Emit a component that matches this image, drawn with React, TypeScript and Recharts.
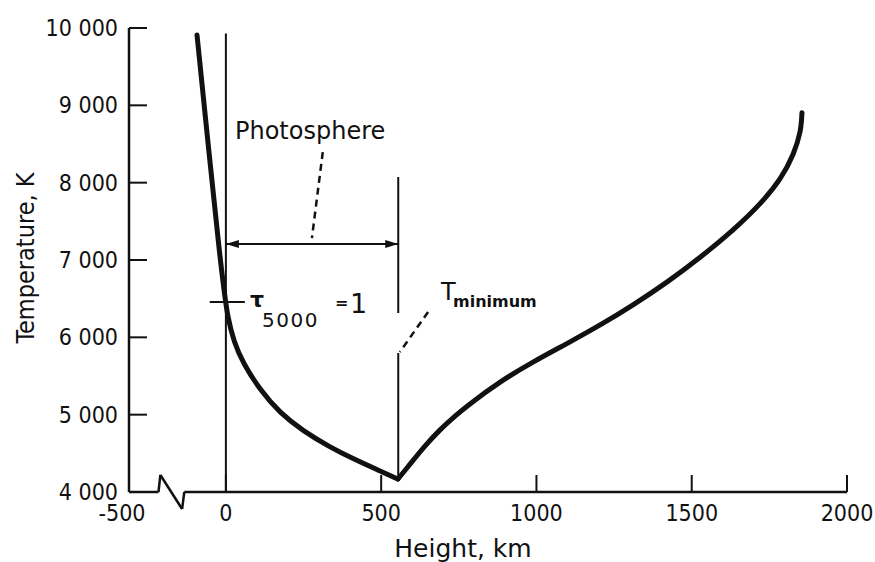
import React from 'react';
import { LineChart, Line, XAxis, YAxis, ReferenceLine } from 'recharts';

// temperature profile, split at the minimum
const leftHeightKm = [-93, -52, -19, -6, 6, 26, 55, 110, 174, 248, 335, 409, 496, 554];
const leftTemperatureK = [9909, 8293, 7026, 6612, 6250, 5940, 5668, 5319, 5021, 4790, 4580, 4430, 4272, 4168];
const rightHeightKm = [554, 583, 609, 641, 689, 738, 786, 882, 989, 1098, 1205, 1311, 1420, 1527, 1633, 1720, 1784, 1826, 1849, 1855];
const rightTemperatureK = [4168, 4310, 4440, 4594, 4800, 4981, 5139, 5417, 5679, 5919, 6160, 6420, 6714, 7035, 7390, 7729, 8049, 8364, 8663, 8905];

// broken axis: the first tick sits where -500 is drawn
const xTicks = [-312, 0, 500, 1000, 1500, 2000];
const xTickLabels = ['-500', '0', '500', '1000', '1500', '2000'];
const yTicks = [4000, 5000, 6000, 7000, 8000, 9000, 10000];
const yTickLabels = ['4 000', '5 000', '6 000', '7 000', '8 000', '9 000', '10 000'];

// zigzag of the axis break
const breakKm = [-312, -217, -211, -141, -134, 2000];
const breakT = [4000, 4000, 4220, 3780, 4000, 4000];

const surfaceKm = 0;
const tMinKm = 555;
const tMinT = 4168;
const tauT = 6457;
const photosphereArrowT = 7207;

const leftData = leftHeightKm.map((h, i) => ({ h, t: leftTemperatureK[i] }));
const rightData = rightHeightKm.map((h, i) => ({ h, t: rightTemperatureK[i] }));

const INK = '#111';
const TICK_FONT = "'DejaVu Sans Condensed', 'Liberation Sans Narrow', 'DejaVu Sans', sans-serif";
const TEXT_FONT = "'DejaVu Sans', sans-serif";

const XTick = (props: any) => {
    const { x, y, payload } = props;
    const i = xTicks.indexOf(payload.value);
    const first = i === 0;
    return (
        <g>
            {!first && <line x1={x} x2={x} y1={y} y2={y - 17} stroke={INK} strokeWidth={2} />}
            <text x={first ? x - 7 : x} y={y + 29} textAnchor="middle" fontFamily={TICK_FONT} fontSize={23} fill={INK}>
                {xTickLabels[i]}
            </text>
        </g>
    );
};

const YTick = (props: any) => {
    const { x, y, payload } = props;
    const i = yTicks.indexOf(payload.value);
    return (
        <g>
            <line x1={x} x2={x + 18} y1={y} y2={y} stroke={INK} strokeWidth={2} />
            <text x={x - 11} y={y + 8} textAnchor="end" fontFamily={TICK_FONT} fontSize={23} fill={INK}>
                {yTickLabels[i]}
            </text>
        </g>
    );
};

const DoubleArrow = (props: any) => {
    const { x1, y1, x2, y2 } = props;
    return (
        <g>
            <line x1={x1} y1={y1} x2={x2} y2={y2} stroke={INK} strokeWidth={2} />
            <polygon points={`${x1},${y1} ${x1 + 13},${y1 - 4} ${x1 + 13},${y1 + 4}`} fill={INK} />
            <polygon points={`${x2},${y2} ${x2 - 13},${y2 - 4} ${x2 - 13},${y2 + 4}`} fill={INK} />
        </g>
    );
};

export default function App() {
    const breakSegments = breakKm.slice(1).map((h, i) => [
        { x: breakKm[i], y: breakT[i] },
        { x: h, y: breakT[i + 1] },
    ]);

    return (
        <div style={{ position: 'absolute', left: 0, top: 0, width: 875, height: 562, background: '#fff' }}>
            <LineChart width={875} height={562} margin={{ top: 28, right: 28, left: 29, bottom: 0 }}>
                <XAxis
                    dataKey="h"
                    type="number"
                    domain={[xTicks[0], 2000]}
                    ticks={xTicks}
                    height={70}
                    axisLine={false}
                    tickLine={false}
                    tickSize={0}
                    tickMargin={0}
                    tick={<XTick />}
                    interval={0}
                    allowDuplicatedCategory={false}
                />
                <YAxis
                    type="number"
                    domain={[4000, 10000]}
                    ticks={yTicks}
                    width={100}
                    axisLine={{ stroke: INK, strokeWidth: 2.5 }}
                    tickLine={false}
                    tickSize={0}
                    tickMargin={0}
                    tick={<YTick />}
                    interval={0}
                />

                {breakSegments.map((seg, i) => (
                    <ReferenceLine key={`b${i}`} segment={seg} stroke={INK} strokeWidth={2.5} ifOverflow="visible" />
                ))}

                {/* h = 0 and T minimum markers */}
                <ReferenceLine segment={[{ x: surfaceKm, y: 4000 }, { x: surfaceKm, y: 9930 }]} stroke={INK} strokeWidth={2} ifOverflow="visible" />
                <ReferenceLine segment={[{ x: tMinKm, y: 6314 }, { x: tMinKm, y: 8073 }]} stroke={INK} strokeWidth={2} ifOverflow="visible" />
                <ReferenceLine segment={[{ x: tMinKm, y: tMinT }, { x: tMinKm, y: 5797 }]} stroke={INK} strokeWidth={2} ifOverflow="visible" />
                <ReferenceLine
                    segment={[{ x: surfaceKm, y: photosphereArrowT }, { x: tMinKm, y: photosphereArrowT }]}
                    shape={<DoubleArrow />}
                    ifOverflow="visible"
                />
                <ReferenceLine segment={[{ x: 312, y: 8396 }, { x: 277, y: 7284 }]} stroke={INK} strokeWidth={2.5} strokeDasharray="7 5" ifOverflow="visible" />
                <ReferenceLine segment={[{ x: 651, y: 6327 }, { x: 560, y: 5810 }]} stroke={INK} strokeWidth={2.5} strokeDasharray="7 5" ifOverflow="visible" />
                <ReferenceLine segment={[{ x: -52, y: tauT }, { x: 61, y: tauT }]} stroke={INK} strokeWidth={2} ifOverflow="visible" />

                <Line
                    data={leftData}
                    type="basis"
                    dataKey="t"
                    stroke={INK}
                    strokeWidth={5}
                    strokeLinecap="round"
                    dot={false}
                    activeDot={false}
                    isAnimationActive={false}
                />
                <Line
                    data={rightData}
                    type="natural"
                    dataKey="t"
                    stroke={INK}
                    strokeWidth={5}
                    strokeLinecap="round"
                    dot={false}
                    activeDot={false}
                    isAnimationActive={false}
                />

                <text x={235} y={139} fontFamily={TEXT_FONT} fontSize={24} fill={INK}>Photosphere</text>
                <text x={250} y={307} fontFamily={TEXT_FONT} fontSize={22} fontWeight="bold" fill={INK}>τ</text>
                <text x={262} y={327} fontFamily={TEXT_FONT} fontSize={20} letterSpacing={1.5} fill={INK}>5000</text>
                <text x={335} y={308} fontFamily={TEXT_FONT} fontSize={16} fontWeight="bold" fill={INK}>=</text>
                <text x={350} y={313} fontFamily={TEXT_FONT} fontSize={27} fill={INK}>1</text>
                <text x={441} y={300} fontFamily={TEXT_FONT} fontSize={24} fill={INK}>T</text>
                <text x={453} y={307} fontFamily={TEXT_FONT} fontSize={16} fontWeight="bold" fill={INK}>minimum</text>
                <text x={463} y={557} textAnchor="middle" fontFamily={TEXT_FONT} fontSize={25} fill={INK}>Height, km</text>
                <text
                    x={0}
                    y={0}
                    transform="translate(34 258) rotate(-90)"
                    textAnchor="middle"
                    fontFamily={TICK_FONT}
                    fontSize={25}
                    fill={INK}
                >
                    Temperature, K
                </text>
            </LineChart>
        </div>
    );
}
